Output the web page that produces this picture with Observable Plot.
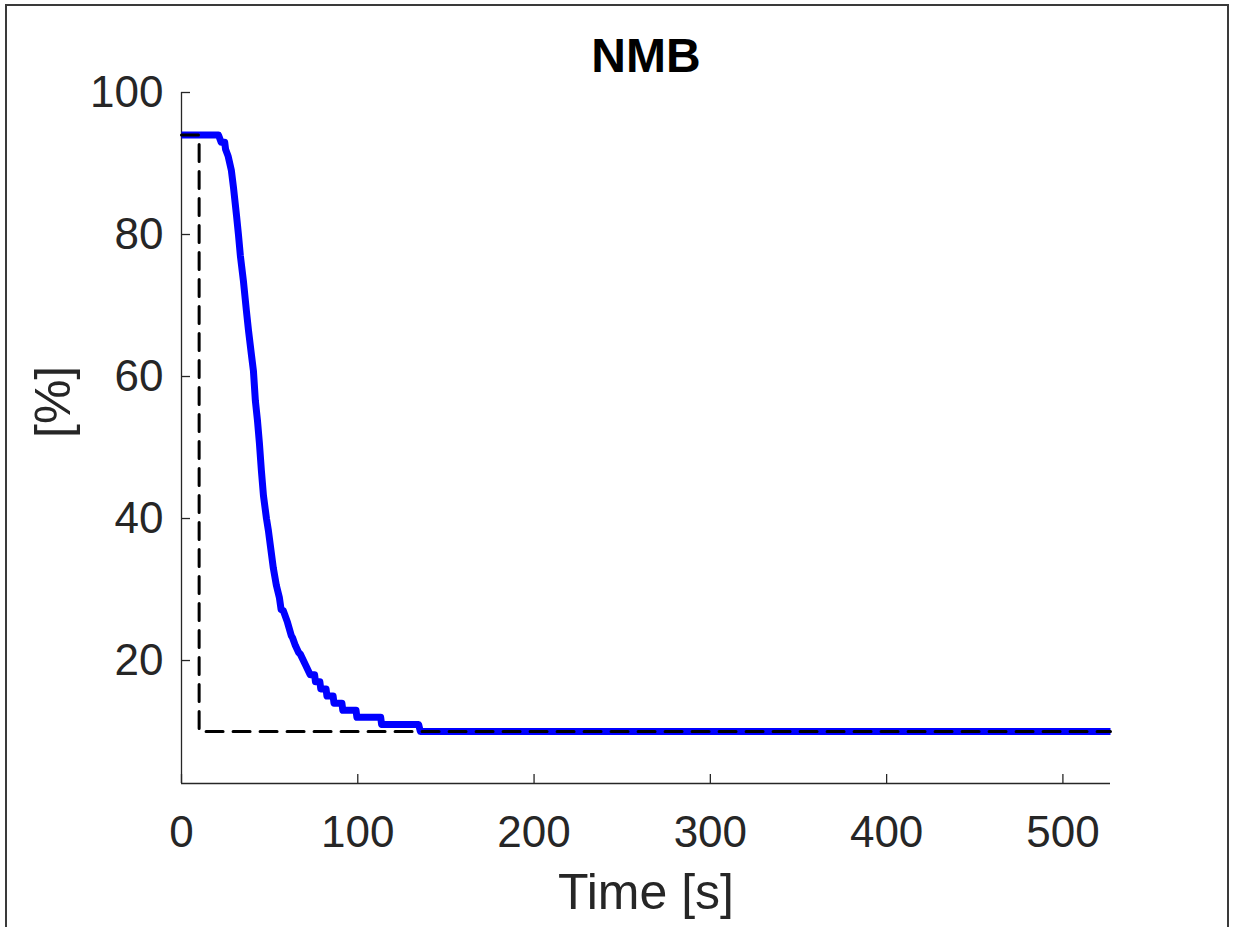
<!DOCTYPE html>
<html>
<head>
<meta charset="utf-8">
<script src="https://cdn.jsdelivr.net/npm/d3@7"></script>
<script src="https://cdn.jsdelivr.net/npm/@observablehq/plot@0.6"></script>
<style>
  html, body { margin: 0; padding: 0; background: #fff; }
  #wrap { position: relative; width: 1235px; height: 927px; overflow: hidden; }
  #frame { position: absolute; left: 5px; top: 4px; width: 1224px; height: 940px;
           border: 2px solid #3a3a3a; border-bottom: none; box-sizing: border-box; pointer-events: none; }
  #chart { position: absolute; left: 0; top: 0; }
</style>
</head>
<body>
<div id="wrap"><div id="chart"></div><div id="frame"></div></div>
<script>
// Measured NMB response (time in s, value in %)
const time = [0, 21, 22.5, 24.5, 25, 26.5, 28.3, 29.5, 31.2, 32.3,
  33.4, 35.1, 36.8, 38, 39.7, 40.8, 41.9, 43.1, 44.2, 45.3,
  46.5, 48.2, 49.3, 50.4, 52.1, 53.8, 55.5, 56.5, 57.8, 60.1,
  62.3, 63, 64.6, 66.5, 67.4, 70.3, 73, 75.5, 76, 78.5,
  79, 82, 82.5, 86, 86.5, 91, 91.5, 99, 99.5, 113,
  113.5, 134.5, 135.5, 527];
const nmb = [94, 94, 93, 93, 92, 91, 89, 86.6, 82.7, 80,
  77, 73.5, 69.3, 66.5, 63, 60.8, 56.6, 53.8, 50.6, 46.8,
  43.2, 40, 38.3, 36.2, 33, 30.6, 28.9, 27.2, 27, 25.4,
  23.5, 23.2, 22.1, 21.1, 20.9, 19.4, 18, 18, 17, 17,
  16, 16, 15, 15, 14, 14, 13, 13, 12, 12,
  11, 11, 10, 10];
// Reference (setpoint) signal
const refTime = [0, 10, 10, 527];
const refValue = [94, 94, 10, 10];
// Axis ticks
const xTicks = [0, 100, 200, 300, 400, 500];
const yTicks = [20, 40, 60, 80, 100];
const xDomain = [0, 527];
const yDomain = [2.68, 100];

const W = 1235, H = 927;
const M = {top: 92, right: 125, bottom: 144, left: 181};
const innerW = W - M.left - M.right;
const innerH = H - M.top - M.bottom;
const ink = "#262626";

const measured = time.map((t, i) => ({t, v: nmb[i]}));
const reference = refTime.map((t, i) => ({t, v: refValue[i]}));

const chart = Plot.plot({
  width: W, height: H,
  marginTop: M.top, marginRight: M.right, marginBottom: M.bottom, marginLeft: M.left,
  style: {fontFamily: "'Liberation Sans', Arial, sans-serif", fontSize: "44px", color: ink, background: "white"},
  x: {domain: xDomain, ticks: xTicks, tickSize: 0, tickPadding: 32, tickFormat: d => String(d), label: null},
  y: {domain: yDomain, ticks: yTicks, tickSize: 0, tickPadding: 18, tickFormat: d => String(d), label: null},
  marks: [
    // axis lines
    Plot.ruleX([xDomain[0]], {stroke: ink, strokeWidth: 1.3}),
    Plot.ruleY([yDomain[0]], {stroke: ink, strokeWidth: 1.3}),
    // inward ticks
    Plot.ruleX(xTicks, {x: d => d, stroke: ink, strokeWidth: 1.3, insetTop: innerH - 9}),
    Plot.ruleY(yTicks, {y: d => d, stroke: ink, strokeWidth: 1.3, insetRight: innerW - 9}),
    // measured
    Plot.line(measured, {x: "t", y: "v", stroke: "#0000ff", strokeWidth: 7, strokeLinejoin: "round", strokeLinecap: "butt"}),
    // reference
    Plot.line(reference, {x: "t", y: "v", stroke: "black", strokeWidth: 3, strokeDasharray: "17,10"}),
    // title and axis labels
    Plot.text(["NMB"], {frameAnchor: "top", dy: -55, fontSize: 48, fontWeight: "bold", fill: "black"}),
    Plot.text(["Time [s]"], {frameAnchor: "bottom", dy: 125, fontSize: 50, fill: ink}),
    Plot.text(["[%]"], {frameAnchor: "left", dx: -128, rotate: -90, fontSize: 50, fill: ink})
  ]
});
document.getElementById("chart").appendChild(chart);
</script>
</body>
</html>
